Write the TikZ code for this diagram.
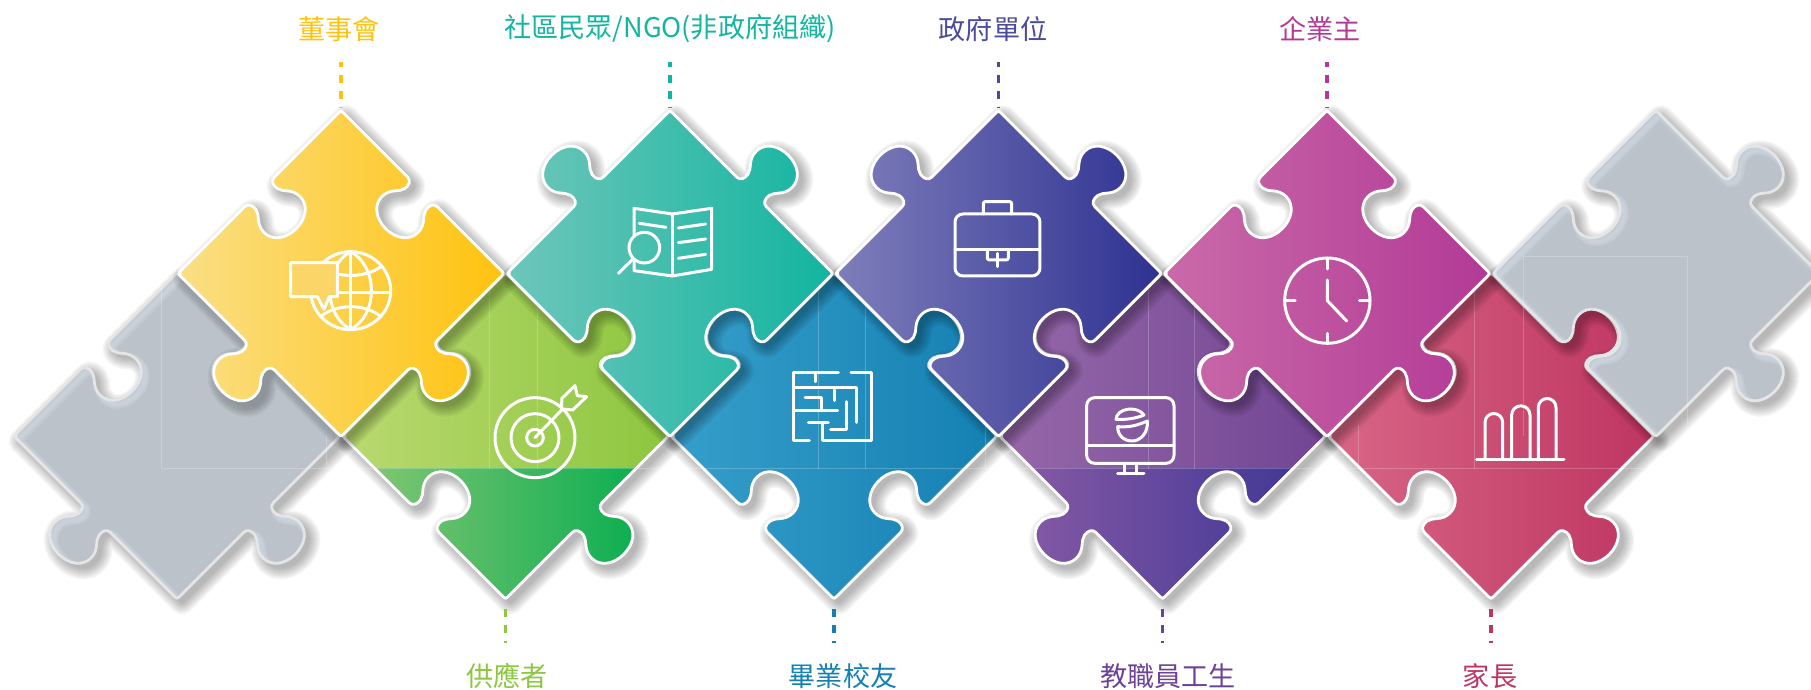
\documentclass[tikz,border=0pt]{standalone}
\usepackage{fontspec}
\setmainfont{Noto Sans CJK TC}
\usepackage{color}
\definecolor{boardcol}{HTML}{FFC20E}
\definecolor{boardleft}{HTML}{FADF85}
\definecolor{ngocol}{HTML}{12B5A0}
\definecolor{ngoleft}{HTML}{6EC6BA}
\definecolor{govcol}{HTML}{4B4B9B}
\definecolor{govleft}{HTML}{7F7EBB}
\definecolor{govright}{HTML}{2E3191}
\definecolor{ownercol}{HTML}{B23A96}
\definecolor{ownerleft}{HTML}{CA6AA9}
\definecolor{supplycol}{HTML}{8DC63F}
\definecolor{supplyleft}{HTML}{BAD970}
\definecolor{supplylow}{HTML}{8CC876}
\definecolor{supplyright}{HTML}{00AB4E}
\definecolor{alumnicol}{HTML}{1480B2}
\definecolor{alumnileft}{HTML}{369ECA}
\definecolor{staffcol}{HTML}{6E4199}
\definecolor{staffleft}{HTML}{9668A9}
\definecolor{staffright}{HTML}{724594}
\definecolor{stafflow}{HTML}{8A5CA6}
\definecolor{staffdeep}{HTML}{3B3494}
\definecolor{parentcol}{HTML}{BE3561}
\definecolor{parentleft}{HTML}{D86687}
\definecolor{greyfill}{HTML}{BBC2CA}
\definecolor{greyglow}{HTML}{D3DDE5}
\definecolor{greyedge}{HTML}{E3E5E7}
\definecolor{globeback}{HTML}{FBD568}

\newcommand{\pieceedge}[2]{%
{[rotate=#1,shift={(0,115.3)}] -- (-112,0) {[yscale=#2] -- (-21,0) .. controls (-16,0) and (-14,5) .. (-15,10) .. controls (-16,17) and (-25.5,20) .. (-25.5,32) .. controls (-25.5,44) and (-14,52) .. (0,52) .. controls (14,52) and (25.5,44) .. (25.5,32) .. controls (25.5,20) and (16,17) .. (15,10) .. controls (14,5) and (16,0) .. (21,0)} -- (112,0) .. controls (115.3,0) and (115.3,-1) .. (115.3,-3.3)}}
\newcommand{\piecepath}[4]{{[rotate=45,shift={(0,115.3)}] (-115.3,-3.3)} \pieceedge{45}{#1} \pieceedge{-45}{#2} \pieceedge{-135}{#3} \pieceedge{-225}{#4} -- cycle}
\newcommand{\lowerband}[2]{\begin{scope}\clip (-200,-32.6) rectangle (200,-200);
\path[left color=#1,right color=#2] \thispath;\end{scope}}
\newcommand{\greypiece}{\colorlet{outlinecol}{greyedge}\begin{scope}\clip \thispath;
\foreach \w in {9,6,3} {\draw[shift={(4,-4)},draw=greyglow,line width=\w bp,opacity=.28] \thispath;}
\end{scope}}
\newcommand{\puzzlepiece}[8]{%
\begin{scope}[shift={#1}]
\def\thispath{\piecepath{#2}{#3}{#4}{#5}}
\foreach \w in {22,19,...,1} {\begin{scope}[transparency group,opacity=.04]
\path[shift={(5,-5)},fill=black,draw=black,line width=\w bp,line join=round] \thispath;
\end{scope}}
\path[left color=#6,right color=#7] \thispath;
\colorlet{outlinecol}{white}
#8
\draw[draw=outlinecol,line width=2.8bp,line join=round] \thispath;
\end{scope}}

\tikzset{
  icon/.style={draw=white,line width=3bp,line cap=round,line join=round},
  iconframe/.style={shift={#1},x=.3333bp,y=-.3333bp},
  faint/.style={draw=white,opacity=.22,line width=.6bp},
  toplabel/.style={font=\fontsize{27.2}{30}\selectfont,minimum height=66bp,inner sep=0pt},
  leader/.style={line width=3.2bp,dash pattern=on 8.5bp off 7.5bp},
}

\begin{document}
\begin{tikzpicture}[x=1bp,y=1bp]
\useasboundingbox (0,0) rectangle (1811,690);
%% lower row
% Piece: left grey
\puzzlepiece{(177,254)}{-1}{-1}{1}{1}{greyfill}{greyfill}{\greypiece}
% Piece: supplier
\puzzlepiece{(505.5,254)}{-1}{1}{1}{-1}{supplyleft}{supplycol}{\lowerband{supplylow}{supplyright}}
% Piece: alumni
\puzzlepiece{(834,254)}{1}{1}{-1}{-1}{alumnileft}{alumnicol}{}
% Piece: staff
\puzzlepiece{(1162.5,254)}{1}{-1}{-1}{1}{staffleft}{staffright}{\lowerband{stafflow}{staffdeep}}
% Piece: parent
\puzzlepiece{(1491,254)}{-1}{1}{1}{-1}{parentleft}{parentcol}{}
%
\draw[faint] (161.6,221.4) -- (1680,221.4);
\foreach \x/\y in {161.6/417,326/254,489/414,537/417,818/420,865.6/415,985/270,1148.6/414,1194/417,1358.7/265,1474.6/417} {
  \draw[faint] (\x,221.4) -- (\x,\y);
}
%% upper row
% Piece: board
\puzzlepiece{(341,416.5)}{-1}{-1}{1}{1}{boardleft}{boardcol}{}
% Piece: ngo
\puzzlepiece{(670,416.5)}{1}{1}{-1}{-1}{ngoleft}{ngocol}{}
% Piece: gov
\puzzlepiece{(998.5,416.5)}{1}{1}{-1}{-1}{govleft}{govright}{}
% Piece: owner
\puzzlepiece{(1327,416.5)}{-1}{-1}{1}{1}{ownerleft}{ownercol}{}
% Piece: right grey
\puzzlepiece{(1656,416.5)}{-1}{1}{1}{-1}{greyfill}{greyfill}{\greypiece}
\draw[faint] (1523,254) -- (1523,433.5) -- (1687.5,433.5) -- (1687.5,254);
%% icons
% Icon: globe
\begin{scope}[iconframe={(280,450)}]
\draw[icon] (212,152) ellipse (120 and 117);
\draw[icon] (212,35) -- (212,268) (172,158) -- (332,158);
\draw[icon] (212,35) .. controls (295,80) and (295,225) .. (212,268);
\draw[icon] (212,35) .. controls (129,80) and (129,225) .. (212,268);
\draw[icon] (125,80) .. controls (170,115) and (255,115) .. (303,80);
\draw[icon] (122,230) .. controls (170,190) and (255,190) .. (303,230);
\draw[icon,fill=globeback] (32,68) -- (172,68) -- (172,170) -- (148,170) -- (132,208) -- (112,170) -- (32,170) -- cycle;
\end{scope}
% Icon: target
\begin{scope}[iconframe={(480,315)}]
\draw[icon] (165,188) circle (120);
\draw[icon] (165,188) circle (72);
\draw[icon] (165,188) circle (25);
\draw[icon] (165,188) -- (245,105);
\draw[icon] (244,102) -- (246,70) -- (285,32) -- (292,62) -- (320,65) -- (278,105) -- cycle;
\end{scope}
% Icon: book
\begin{scope}[iconframe={(610,490)}]
\draw[icon] (72,105) -- (72,25) -- (187,42) -- (305,25) -- (305,208) -- (187,228) -- (72,212) -- (72,185);
\draw[icon] (187,42) -- (187,228);
\draw[icon] (88,70) -- (168,82);
\draw[icon] (205,84) -- (287,72) (205,128) -- (287,117) (205,175) -- (287,163);
\draw[icon] (103,143) circle (46);
\draw[icon] (68,178) -- (25,220);
\end{scope}
% Icon: maze
\begin{scope}[iconframe={(780,330)}]
\draw[icon] (175,37) -- (40,37) -- (40,243) -- (88,243);
\draw[icon] (213,37) -- (275,37) -- (275,243) -- (128,243) -- (128,187);
\draw[icon] (105,37) -- (105,65);
\draw[icon] (40,83) -- (228,83) -- (228,187);
\draw[icon] (40,153) -- (173,153);
\draw[icon] (75,113) -- (125,113) -- (125,153);
\draw[icon] (163,90) -- (163,122);
\draw[icon] (198,125) -- (198,210) -- (152,210);
\draw[icon] (85,187) -- (145,187);
\end{scope}
% Icon: case
\begin{scope}[iconframe={(940,500)}]
\draw[icon,rounded corners=8bp] (45,72) rectangle (300,258);
\draw[icon,rounded corners=2bp] (130,72) -- (130,35) -- (215,35) -- (215,72);
\draw[icon] (45,180) -- (300,180);
\draw[icon,rounded corners=2bp] (142,180) -- (142,210) -- (205,210) -- (205,180);
\draw[icon] (172,190) -- (172,230);
\end{scope}
% Icon: monitor
\begin{scope}[iconframe={(1070,305)}]
\draw[icon,rounded corners=8bp] (50,38) rectangle (312,235);
\draw[icon] (50,183) -- (312,183);
\draw[icon] (163,235) -- (163,267) (200,235) -- (200,267) (143,267) -- (222,267);
\draw[icon] (138,103) .. controls (140,70) and (200,60) .. (222,90) .. controls (200,100) and (165,105) .. cycle;
\draw[icon] (143,125) .. controls (180,128) and (205,120) .. (232,108) .. controls (235,145) and (210,168) .. (187,168) .. controls (160,168) and (143,150) .. cycle;
\end{scope}
% Icon: clock
\begin{scope}[iconframe={(1270,445)}]
\draw[icon] (172,167) circle (128);
\draw[icon] (172,42) -- (172,72) (172,265) -- (172,295) (45,167) -- (75,167) (268,167) -- (300,167);
\draw[icon] (172,105) -- (172,167) -- (230,228);
\end{scope}
% Icon: bars
\begin{scope}[iconframe={(1460,305)}]
\draw[icon] (50,224) -- (312,224);
\draw[icon,line cap=butt] (75,224) -- (75,112) arc[start angle=180,end angle=0,x radius=26.5,y radius=-26.5] -- (128,224);
\draw[icon,line cap=butt] (155,224) -- (155,90) arc[start angle=180,end angle=0,x radius=27.5,y radius=-27.5] -- (210,224);
\draw[icon,line cap=butt] (235,224) -- (235,67) arc[start angle=180,end angle=0,x radius=26.5,y radius=-26.5] -- (288,224);
\end{scope}
%% labels
\node[toplabel,text=boardcol] (boardlabel) at (339,661) {董事會};
\node[toplabel,text=ngocol] (ngolabel) at (670,661) {社區民眾/NGO(非政府組織)};
\node[toplabel,text=govcol] (govlabel) at (993,661) {政府單位};
\node[toplabel,text=ownercol] (ownerlabel) at (1320,661) {企業主};
\node[toplabel,text=supplycol] (supplylabel) at (507,14) {供應者};
\node[toplabel,text=alumnicol] (alumnilabel) at (843,14) {畢業校友};
\node[toplabel,text=staffcol] (stafflabel) at (1168,14) {教職員工生};
\node[toplabel,text=parentcol] (parentlabel) at (1490,14) {家長};
%% leaders
\coordinate (boardtop) at (341,582);
\coordinate (ngotop) at (670,582);
\coordinate (govtop) at (998.5,582);
\coordinate (ownertop) at (1327,582);
\coordinate (supplyfoot) at (505.5,81);
\coordinate (alumnifoot) at (834,81);
\coordinate (stafffoot) at (1162.5,81);
\coordinate (parentfoot) at (1491,81);
% Edge: board
\draw[leader,draw=boardcol,dash phase=3.5bp] (boardtop |- boardlabel.south) -- (boardtop);
% Edge: ngo
\draw[leader,draw=ngocol,dash phase=3.5bp] (ngotop |- ngolabel.south) -- (ngotop);
% Edge: gov
\draw[leader,draw=govcol,dash phase=3.5bp] (govtop |- govlabel.south) -- (govtop);
% Edge: owner
\draw[leader,draw=ownercol,dash phase=3.5bp] (ownertop |- ownerlabel.south) -- (ownertop);
% Edge: supplier
\draw[leader,draw=supplycol] (supplyfoot) -- (supplyfoot |- supplylabel.north);
% Edge: alumni
\draw[leader,draw=alumnicol] (alumnifoot) -- (alumnifoot |- alumnilabel.north);
% Edge: staff
\draw[leader,draw=staffcol] (stafffoot) -- (stafffoot |- stafflabel.north);
% Edge: parent
\draw[leader,draw=parentcol] (parentfoot) -- (parentfoot |- parentlabel.north);
\end{tikzpicture}
\end{document}
